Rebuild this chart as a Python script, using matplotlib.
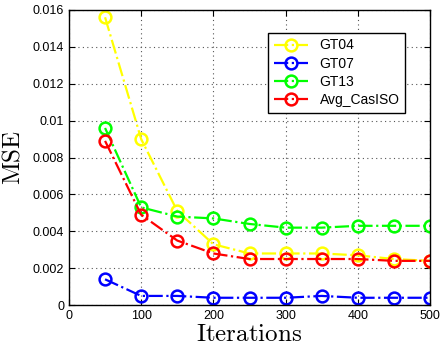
import matplotlib
matplotlib.use("Agg")
import matplotlib.pyplot as plt

iterations = [50, 100, 150, 200, 250, 300, 350, 400, 450, 500]
gt04 = [0.0156, 0.0090, 0.0051, 0.0033, 0.0028, 0.0028, 0.0028, 0.0027, 0.0025, 0.0024]
gt07 = [0.0014, 0.0005, 0.0005, 0.0004, 0.0004, 0.0004, 0.0005, 0.0004, 0.0004, 0.0004]
gt13 = [0.0096, 0.0053, 0.0048, 0.0047, 0.0044, 0.0042, 0.0042, 0.0043, 0.0043, 0.0043]
avg = [0.0089, 0.0049, 0.0035, 0.0028, 0.0025, 0.0025, 0.0025, 0.0025, 0.0024, 0.0024]
labels = ["GT04", "GT07", "GT13", "Avg_CasISO"]
colors = ["#ffff00", "#0000ff", "#00ff00", "#ff0000"]
yticks = [0, 0.002, 0.004, 0.006, 0.008, 0.01, 0.012, 0.014, 0.016]
yticklabels = ["0", "0.002", "0.004", "0.006", "0.008", "0.01", "0.012", "0.014", "0.016"]
xticks = [0, 100, 200, 300, 400, 500]

plt.rcParams['font.family'] = ['Liberation Sans', 'DejaVu Sans']
plt.rcParams['mathtext.fontset'] = 'cm'

fig = plt.figure(figsize=(4.42, 3.54), dpi=100)
ax = fig.add_axes([0.156, 0.138, 0.817, 0.834])

for data, lab, c in zip([gt04, gt07, gt13, avg], labels, colors):
    ax.plot(iterations, data, linestyle='-.', color=c, linewidth=1.6,
             marker='o', markersize=8.5, markerfacecolor='none',
             markeredgewidth=1.8, markeredgecolor=c, label=lab)

ax.set_xlim(0, 500)
ax.set_ylim(0, 0.016)
ax.set_xticks(xticks)
ax.set_yticks(yticks)
ax.set_yticklabels(yticklabels)
ax.tick_params(direction='in', top=True, right=True, labelsize=9, length=4)
ax.grid(True, linestyle=(0, (1, 3)), color='#555555', linewidth=0.8)
for s in ax.spines.values():
    s.set_linewidth(1)
ax.set_xlabel(r'$\mathrm{Iterations}$', fontsize=18, labelpad=0)
ax.set_ylabel(r'$\mathrm{MSE}$', fontsize=18)
ax.yaxis.set_label_coords(-0.122, 0.5)

leg = ax.legend(loc='upper right', bbox_to_anchor=(0.931, 0.922), fancybox=False,
                edgecolor='black', framealpha=1, fontsize=10, handlelength=2.5,
                borderaxespad=0, labelspacing=0.3)
leg.get_frame().set_linewidth(1)

fig.savefig("out.png", dpi=100)
